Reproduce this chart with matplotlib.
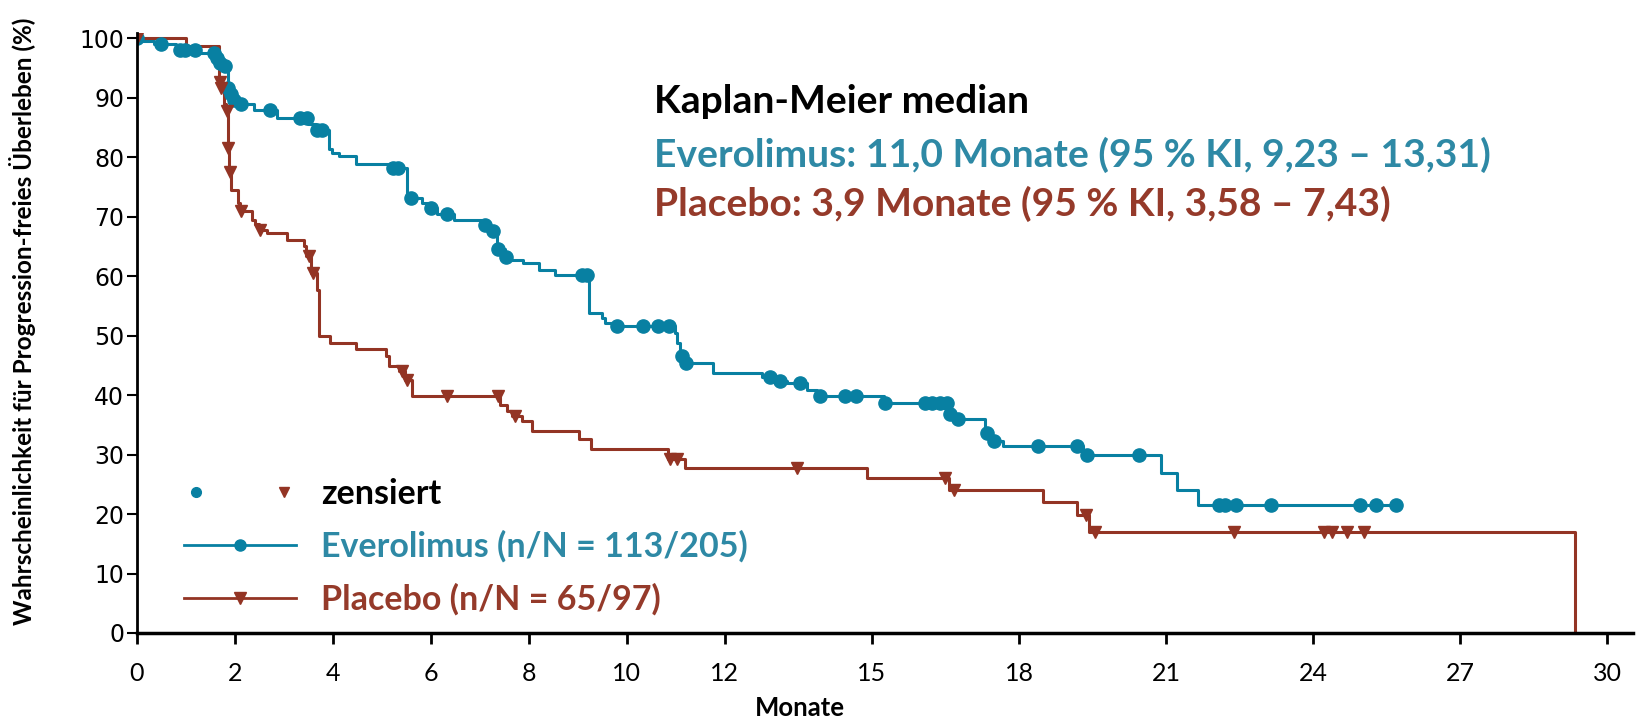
import matplotlib
matplotlib.use("Agg")
import matplotlib.pyplot as plt
import numpy as np
from matplotlib.lines import Line2D
from matplotlib.legend_handler import HandlerTuple

# Kaplan-Meier Stufen (Monate, %)
evero_t = [0, 0.05, 0.35, 0.8, 1.30, 1.60, 1.70, 1.78, 1.86, 1.90, 1.96, 2.05, 2.39, 2.86,
           3.50, 3.65, 3.92, 3.98, 4.12, 4.48, 5.20, 5.51, 5.82, 5.95, 6.13, 6.47, 7.04,
           7.20, 7.35, 7.52, 7.60, 7.88, 8.20, 8.54, 9.22, 9.49, 9.56, 9.75, 10.99, 11.02,
           11.09, 11.15, 11.75, 12.75, 13.00, 13.26, 13.67, 13.87, 15.24, 16.55, 16.68,
           17.31, 17.45, 17.68, 19.30, 20.90, 21.23, 21.66, 25.70]
evero_s = [100, 99.5, 99.1, 98.1, 97.5, 96.6, 95.9, 95.3, 91.6, 90.6, 89.6, 88.9, 87.9, 86.6,
           85.6, 84.6, 81.4, 80.7, 80.2, 78.9, 78.1, 73.1, 72.3, 71.5, 70.4, 69.5, 68.6,
           67.6, 64.6, 63.2, 62.7, 62.2, 61.1, 60.2, 53.8, 53.0, 52.1, 51.6, 50.5, 48.8,
           46.5, 45.4, 43.7, 43.1, 42.4, 42.0, 40.9, 39.8, 38.6, 36.8, 36.0,
           33.6, 32.3, 31.4, 29.9, 26.9, 24.1, 21.5, 21.5]
evero_cens = [0.0, 0.50, 0.89, 0.99, 1.20, 1.57, 1.64, 1.71, 1.81, 1.87, 1.92, 1.98, 2.13,
              2.73, 3.34, 3.47, 3.68, 3.78, 5.24, 5.34, 5.60, 6.00, 6.33, 7.11, 7.28, 7.38,
              7.54, 9.08, 9.19, 9.80, 10.34, 10.64, 10.87, 11.13, 11.20, 12.92, 13.12, 13.53,
              13.94, 14.45, 14.68, 15.27, 16.09, 16.22, 16.39, 16.53, 16.60, 16.76, 17.35,
              17.49, 18.38, 19.19, 19.38, 20.45, 22.08, 22.21, 22.43, 23.15, 24.96, 25.29, 25.70]

plac_t = [0, 1.00, 1.68, 1.725, 1.78, 1.83, 1.855, 1.89, 1.93, 2.06, 2.10, 2.35, 2.42, 2.50,
          2.65, 3.07, 3.41, 3.45, 3.56, 3.68, 3.73, 3.94, 4.48, 5.09, 5.14, 5.35, 5.48, 5.62,
          7.42, 7.55, 7.65, 7.86, 8.06, 9.02, 9.27, 10.85, 11.19, 14.90, 16.58, 18.50, 19.19,
          19.43, 29.35, 29.35]
plac_s = [100, 98.7, 92.7, 91.6, 89.0, 87.7, 81.5, 77.5, 74.5, 72.3, 70.9, 69.5, 68.7, 67.8,
          67.3, 66.1, 65.0, 63.3, 60.5, 57.7, 49.9, 48.8, 47.7, 46.5, 44.9, 44.0, 42.6, 39.8,
          38.4, 37.3, 36.4, 35.6, 33.9, 32.6, 31.0, 29.3, 27.8, 26.1, 24.0, 22.0, 19.9,
          16.9, 16.9, 0]
plac_cens = [0.0, 1.71, 1.73, 1.84, 1.86, 1.91, 2.12, 2.52, 3.51, 3.60, 5.41, 5.51, 6.33,
             7.38, 7.72, 10.88, 11.02, 13.47, 16.49, 16.68, 19.36, 19.55, 22.38, 24.23,
             24.38, 24.70, 25.03]

xticks = [0, 2, 4, 6, 8, 10, 12, 15, 18, 21, 24, 27, 30]
yticks = [0, 10, 20, 30, 40, 50, 60, 70, 80, 90, 100]

blue = '#0880a2'
blue_txt = '#2e89a5'
red = '#933424'
red_txt = '#953a2a'
txt_font = ['Lato', 'DejaVu Sans']


def surv_at(times, surv, t):
    idx = np.searchsorted(times, t, side='right') - 1
    return np.array(surv)[idx]


fig = plt.figure(figsize=(16.36, 7.18), dpi=100)
ax = fig.add_axes([0.0835, 0.1184, 0.9145, 0.835])

ax.step(evero_t, evero_s, where='post', color=blue, lw=2.2)
ax.step(plac_t, plac_s, where='post', color=red, lw=2.2)
ax.plot(evero_cens, surv_at(evero_t, evero_s, evero_cens), 'o', color=blue, ms=9.5, ls='none')
ax.plot(plac_cens, surv_at(plac_t, plac_s, plac_cens), 'v', color=red, ms=9, ls='none')

ax.set_xlim(0, 30.52)
ax.set_ylim(0, 100.8)
ax.set_xticks(xticks)
ax.set_yticks(yticks)
ax.tick_params(axis='x', direction='out', length=8, width=2, labelsize=18, pad=13)
ax.tick_params(axis='y', direction='out', length=7, width=1.5, labelsize=17, pad=2)
for lab in ax.get_xticklabels():
    lab.set_family(txt_font)
for s in ['top', 'right']:
    ax.spines[s].set_visible(False)
ax.spines['left'].set_linewidth(2)
ax.spines['bottom'].set_linewidth(2.5)

fig.text(0.0135, 0.553, 'Wahrscheinlichkeit für Progression-freies Überleben (%)',
         rotation=90, ha='center', va='center', fontsize=17.5, fontweight='bold', family=txt_font)
fig.text(0.489, 0.014, 'Monate', ha='center', va='center', fontsize=18.5,
         fontweight='bold', family=txt_font)

fig.text(0.400, 0.859, 'Kaplan-Meier median', ha='left', va='center', fontsize=28.1,
         fontweight='bold', family=txt_font, color='black')
fig.text(0.400, 0.784, 'Everolimus: 11,0 Monate (95 % KI, 9,23 – 13,31)', ha='left',
         va='center', fontsize=28.1, fontweight='bold', family=txt_font, color=blue_txt)
fig.text(0.400, 0.716, 'Placebo: 3,9 Monate (95 % KI, 3,58 – 7,43)', ha='left',
         va='center', fontsize=28.1, fontweight='bold', family=txt_font, color=red_txt)

h_dot = Line2D([], [], marker='o', color=blue, ls='none', ms=7)
h_tri = Line2D([], [], marker='v', color=red, ls='none', ms=7)
h_evero = Line2D([], [], marker='o', color=blue, lw=2, ms=8)
h_plac = Line2D([], [], marker='v', color=red, lw=2, ms=8)
leg = ax.legend([(h_dot, h_tri), h_evero, h_plac],
                ['zensiert', 'Everolimus (n/N = 113/205)', 'Placebo (n/N = 65/97)'],
                handler_map={tuple: HandlerTuple(ndivide=None, pad=1.9)},
                loc='lower left', bbox_to_anchor=(0.011, -0.0225), frameon=False,
                handlelength=3.3, handletextpad=0.73, labelspacing=0.6,
                prop={'family': txt_font, 'weight': 'bold', 'size': 24.5})
for txt, col in zip(leg.get_texts(), ['black', blue_txt, red_txt]):
    txt.set_color(col)

fig.savefig('out.png', dpi=100)
